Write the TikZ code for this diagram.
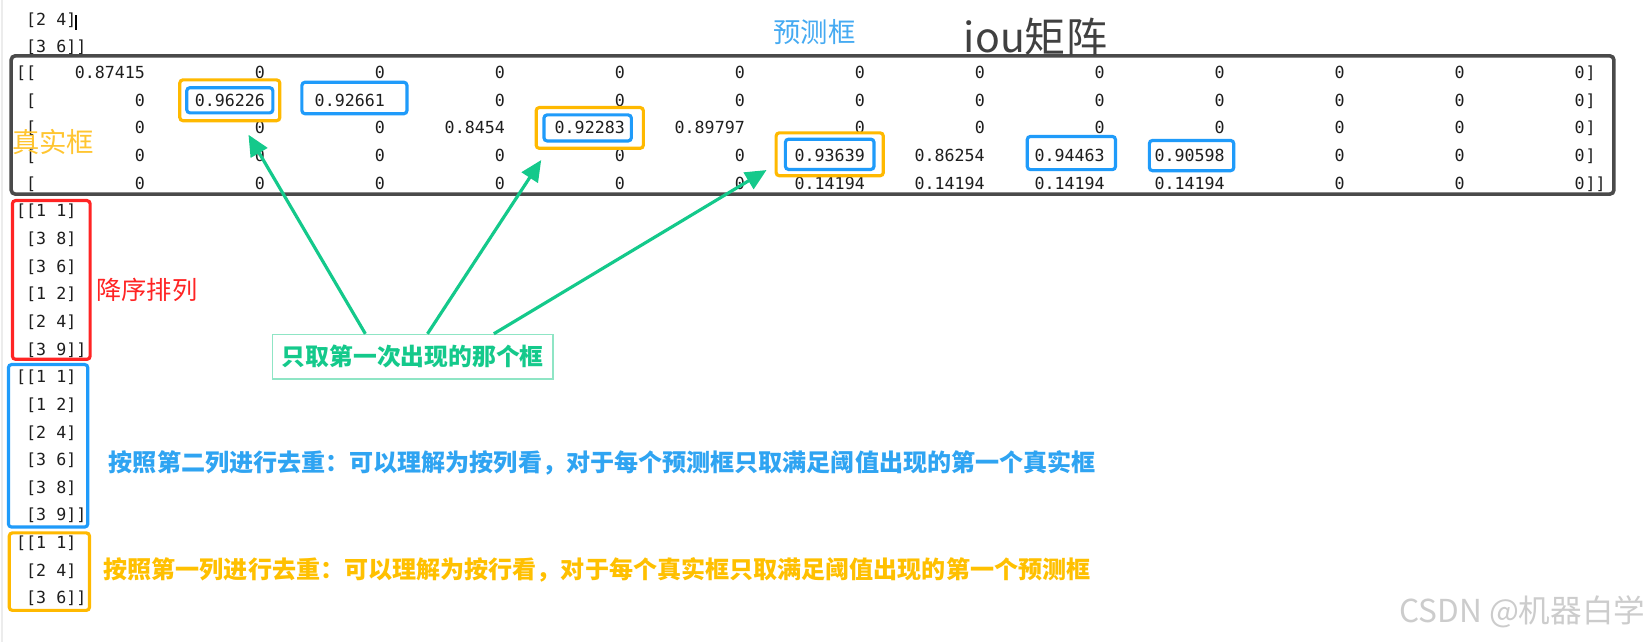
\documentclass[tikz,border=0pt]{standalone}
\usepackage{fontspec}
\setmainfont{Noto Sans CJK SC}
\newfontfamily\monofont{DejaVu Sans Mono}
\usetikzlibrary{arrows.meta,fit}
\definecolor{consoleink}{HTML}{1E1E1E}
\definecolor{framegray}{HTML}{4A4A4A}
\definecolor{gtorange}{HTML}{FFB900}
\definecolor{predblue}{HTML}{1F9BFA}
\definecolor{sortred}{HTML}{FF2424}
\definecolor{pickgreen}{HTML}{14C98B}
\definecolor{pickedge}{HTML}{8FE5C5}
\definecolor{predtext}{HTML}{45AAF2}
\definecolor{gttext}{HTML}{FFC530}
\definecolor{coltext}{HTML}{2FA4F2}
\definecolor{rowtext}{HTML}{FFC000}
\definecolor{titlegray}{HTML}{404040}
\definecolor{markgray}{HTML}{CCCCCC}
\definecolor{panelline}{HTML}{ECECEC}
\tikzset{
  cell/.style={font=\monofont\fontsize{7.9}{9}\selectfont, text=consoleink, inner sep=0pt, text height=5.76pt, text depth=0pt},
  hlbox/.style={draw, line width=1.5pt, rounded corners=1.5pt, inner sep=0pt},
  bluebox/.style={hlbox, draw=predblue, inner xsep=3.9pt, inner ysep=3.3pt},
  orangebox/.style={hlbox, draw=gtorange, inner xsep=8pt, inner ysep=6.8pt},
  listbox/.style={hlbox, inner xsep=1.6pt, inner ysep=1.8pt},
  label/.style={inner sep=0pt, anchor=west},
  greenarrow/.style={draw=pickgreen, line width=1.5pt, -{Triangle[length=10pt,width=9pt]}},
  note/.style={label, font=\bfseries\fontsize{11.43}{13}\selectfont}
}
\begin{document}
\begin{tikzpicture}[x=0.5pt,y=-0.5pt]
  \fill[white] (0,0) rectangle (1568,610);
  \useasboundingbox (0,0) rectangle (1568,610);
  \draw[panelline, line width=0.6pt] (2,0) -- (2,610);
  \node[cell, anchor=west] (top-1) at (24.5,18.5) {[2 4]};
  \node[cell, anchor=west] (top-2) at (24.5,44) {[3 6]]};
  \draw[line width=0.8pt] ([xshift=-0.5pt,yshift=2pt]top-1.east) -- ([xshift=-0.5pt,yshift=-5.2pt]top-1.east);
  \foreach \vals [count=\r] in {
    {0.87415,0,0,0,0,0,0,0,0,0,0,0,0},
    {0,0.96226,0.92661,0,0,0,0,0,0,0,0,0,0},
    {0,0,0,0.8454,0.92283,0.89797,0,0,0,0,0,0,0},
    {0,0,0,0,0,0,0.93639,0.86254,0.94463,0.90598,0,0,0},
    {0,0,0,0,0,0,0.14194,0.14194,0.14194,0.14194,0,0,0}}{
    \foreach \v [count=\c] in \vals
      \node[cell, anchor=east] (m-\r-\c) at ({138+113.95*(\c-1)},{69+26.25*(\r-1)}) {\v};
  }
  \node[cell, anchor=west] (lb-1) at (15,69) {[[};
  \foreach \r in {2,...,5}
    \node[cell, anchor=west] (lb-\r) at (24.5,{69+26.25*(\r-1)}) {[};
  \foreach \r in {1,...,4}
    \node[cell, anchor=west] (rb-\r) at (m-\r-13.east) {]};
  \node[cell, anchor=west] (rb-5) at (m-5-13.east) {]]};
  \node[draw=framegray, line width=1.7pt, rounded corners=2pt, inner sep=0pt, fit={(10.6,53) (1532.8,184.4)}] (iou) {};

  \node[orangebox, inner xsep=6.9pt, inner ysep=6.6pt, fit=(m-2-2)] (gt-1) {};
  \node[bluebox, inner xsep=3.6pt, inner ysep=2.9pt, fit=(m-2-2)] (pb-1) {};
  \node[bluebox, inner xsep=8.1pt, inner ysep=4.4pt, xshift=2.2pt, yshift=1.1pt, fit=(m-2-3)] (pb-2) {};
  \node[orangebox, inner xsep=8.6pt, inner ysep=6.6pt, fit=(m-3-5)] (gt-2) {};
  \node[bluebox, inner ysep=3.1pt, xshift=-1pt, fit=(m-3-5)] (pb-3) {};
  \node[orangebox, inner xsep=8.6pt, inner ysep=7.1pt, yshift=0.6pt, fit=(m-4-7)] (gt-3) {};
  \node[bluebox, inner xsep=4.2pt, inner ysep=4.1pt, yshift=0.6pt, fit=(m-4-7)] (pb-4) {};
  \node[bluebox, inner xsep=4.1pt, inner ysep=4.8pt, yshift=1.2pt, xshift=0.8pt, fit=(m-4-9)] (pb-5) {};
  \node[bluebox, inner xsep=3.2pt, inner ysep=4.1pt, xshift=0.9pt, fit=(m-4-10)] (pb-6) {};

  \node[label, text=predtext, anchor=center, font=\fontsize{13}{15}\selectfont] (predlabel) at (773.5,30) {预测框};
  \node[label, text=titlegray, font=\fontsize{19.5}{22}\selectfont] (ioutitle) at (915,35) {iou矩阵};
  \node[label, text=gttext, font=\fontsize{13}{15}\selectfont] (gtlabel) at (11,135) {真实框};

  \foreach \t [count=\i] in {{[[1 1]},{[3 8]},{[3 6]},{[1 2]},{[2 4]},{[3 9]]}}
    \node[cell, anchor=west] (desc-\i) at ({15+9.51*(\i>1)},{69+26.25*(4+\i)}) {\t};
  \foreach \t [count=\i] in {{[[1 1]},{[1 2]},{[2 4]},{[3 6]},{[3 8]},{[3 9]]}}
    \node[cell, anchor=west] (bycol-\i) at ({15+9.51*(\i>1)},{69+26.25*(10+\i)}) {\t};
  \foreach \t [count=\i] in {{[[1 1]},{[2 4]},{[3 6]]}}
    \node[cell, anchor=west] (byrow-\i) at ({15+9.51*(\i>1)},{69+26.25*(16+\i)}) {\t};
  \node[listbox, draw=sortred, fit=(desc-1)(desc-6)] (desclist) {};
  \node[listbox, draw=predblue, inner xsep=2pt, inner ysep=2.7pt, xshift=-1.5pt, fit=(bycol-1)(bycol-6)] (bycollist) {};
  \node[listbox, draw=gtorange, inner xsep=2.2pt, inner ysep=2.2pt, xshift=-0.9pt, yshift=-0.7pt, fit=(byrow-1)(byrow-3)] (byrowlist) {};
  \node[label, text=sortred, font=\fontsize{12}{14}\selectfont] (sortlabel) at (91,275.5) {降序排列};

  \node[draw=pickedge, line width=0.8pt, text=pickgreen, font=\bfseries\fontsize{11.3}{13}\selectfont, minimum width=133.2pt, minimum height=21.2pt, inner sep=0pt] (pick) at (392,339) {只取第一次出现的那个框};
  \coordinate (hit-1) at (236,128);
  \coordinate (hit-2) at (514,152);
  \coordinate (hit-3) at (728,161.5);
  \draw[greenarrow] ([xshift=-22.5pt]pick.north) -- (hit-1);
  \draw[greenarrow] ([xshift=7pt]pick.north) -- (hit-2);
  \draw[greenarrow] ([xshift=38.5pt]pick.north) -- (hit-3);

  \node[note, text=coltext] (bycolnote) at (103,440) {按照第二列进行去重：可以理解为按列看，对于每个预测框只取满足阈值出现的第一个真实框};
  \node[note, text=rowtext] (byrownote) at (98,541) {按照第一列进行去重：可以理解为按行看，对于每个真实框只取满足阈值出现的第一个预测框};
  \node[label, anchor=east, text=markgray, font=\fontsize{15}{17}\selectfont] (mark) at (1563,581) {CSDN @机器白学};
\end{tikzpicture}
\end{document}
